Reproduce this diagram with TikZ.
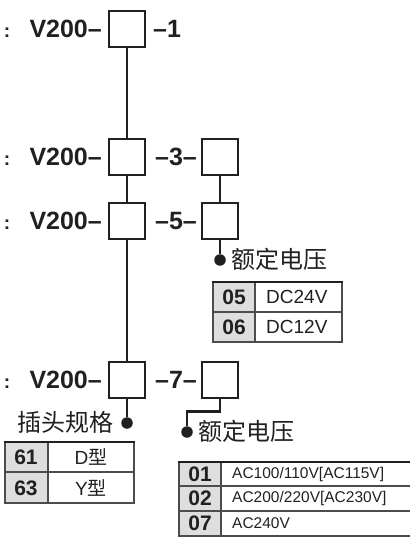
\documentclass[tikz,border=0pt]{standalone}
\usepackage{fontspec}
\setmainfont{Liberation Sans}
\newfontfamily\cjk{Noto Sans CJK SC}
\usepackage{xcolor}
\definecolor{color_ink}{rgb}{0.13,0.12,0.12}
\definecolor{color_cell}{rgb}{0.87,0.87,0.87}
\definecolor{color_rule}{rgb}{0.30,0.30,0.30}

\tikzset{
  codebox/.style={draw=color_ink, line width=2.5pt, minimum size=36pt, inner sep=0pt},
  codetext/.style={font=\fontsize{25}{27}\selectfont\bfseries, text=color_ink, inner sep=0pt},
  colontext/.style={font=\fontsize{19}{21}\selectfont\bfseries, text=color_ink, inner sep=0pt},
  link/.style={draw=color_ink, line width=2.6pt},
  pin/.style={circle, fill=color_ink, minimum size=11.5pt, inner sep=0pt},
  pinlabel/.style={font=\cjk\fontsize{24}{26}\selectfont, text=color_ink, inner sep=0pt},
  cellcode/.style={font=\fontsize{21}{23}\selectfont\bfseries, text=color_ink, inner sep=0pt},
  cellvalue/.style={font=\fontsize{19}{21}\selectfont, text=color_ink, inner sep=0pt},
  cellsmall/.style={font=\fontsize{15.5}{17}\selectfont, text=color_ink, inner sep=0pt},
  cellrule/.style={draw=color_rule, line width=1.1pt},
  celltop/.style={draw=color_ink, line width=2.2pt}
}

\begin{document}
\begin{tikzpicture}[x=1pt, y=-1pt]
		\useasboundingbox (0,0) rectangle (409,537);
		
		% Ligne 1
		\node[colontext] (colA) at (7,33) {:};
		\node[codetext, anchor=east] (baseA) at (102,29) {V200\textendash};
		\node[codebox] (boxA) at (127,29) {};
		\node[codetext, anchor=west] (sufA) at (153,29) {\textendash1};
		
		% Ligne 2
		\node[colontext] (colB) at (7,161) {:};
		\node[codetext, anchor=east] (baseB) at (102,157) {V200\textendash};
		\node[codebox] (boxB) at (127,157) {};
		\node[codetext] (sufB) at (176,157) {\textendash3\textendash};
		\node[codebox] (boxBr) at (220,157) {};
		
		% Ligne 3
		\node[colontext] (colC) at (7,225) {:};
		\node[codetext, anchor=east] (baseC) at (102,221) {V200\textendash};
		\node[codebox] (boxC) at (127,221) {};
		\node[codetext] (sufC) at (176,221) {\textendash5\textendash};
		\node[codebox] (boxCr) at (220,221) {};
		
		% Ligne 4
		\node[colontext] (colD) at (7,384) {:};
		\node[codetext, anchor=east] (baseD) at (102,380) {V200\textendash};
		\node[codebox] (boxD) at (127,380) {};
		\node[codetext] (sufD) at (176,380) {\textendash7\textendash};
		\node[codebox] (boxDr) at (220,380) {};
		
		% Liaisons verticales
		\draw[link] (boxA) -- (boxB);
		\draw[link] (boxB) -- (boxC);
		\draw[link] (boxC) -- (boxD);
		\draw[link] (boxBr) -- (boxCr);
		
		% Tension nominale DC
		\node[pin] (pinDC) at (220,260) {};
		\draw[link] (boxCr) -- (pinDC);
		\node[pinlabel, anchor=west] (lblDC) at (231,259) {额定电压};
		
		\fill[color_cell] (213,282) rectangle (255,342);
		\draw[cellrule] (213,282) rectangle (342,342);
		\draw[cellrule] (255,282) -- (255,342);
		\draw[cellrule] (213,312) -- (342,312);
		\draw[celltop] (212,282) -- (343,282);
		\node[cellcode] (dc05) at (234,297) {05};
		\node[cellvalue, anchor=west] (dcv05) at (266,297) {DC24V};
		\node[cellcode] (dc06) at (234,327) {06};
		\node[cellvalue, anchor=west] (dcv06) at (266,327) {DC12V};
		
		% Spécification de la fiche
		\node[pin] (pinPlug) at (127,423) {};
		\draw[link] (boxD) -- (pinPlug);
		\node[pinlabel, anchor=east] (lblPlug) at (114,422) {插头规格};
		
		\fill[color_cell] (5,442) rectangle (48,503);
		\draw[cellrule] (5,442) rectangle (134,503);
		\draw[cellrule] (48,442) -- (48,503);
		\draw[cellrule] (5,472) -- (134,472);
		\draw[celltop] (4,442) -- (135,442);
		\node[cellcode] (pl61) at (26,457) {61};
		\node[cellvalue] (plv61) at (91,457) {D{\cjk 型}};
		\node[cellcode] (pl63) at (26,488) {63};
		\node[cellvalue] (plv63) at (91,488) {Y{\cjk 型}};
		
		% Tension nominale AC
		\node[pin] (pinAC) at (187,432) {};
		\draw[link] (boxDr.south) -- ++(0,12) -| (pinAC);
		\node[pinlabel, anchor=west] (lblAC) at (198,431) {额定电压};
		
		\fill[color_cell] (179,462) rectangle (221,536);
		\draw[cellrule] (179,462) rectangle (412,536);
		\draw[cellrule] (221,462) -- (221,536);
		\draw[cellrule] (179,486) -- (412,486);
		\draw[cellrule] (179,511) -- (412,511);
		\draw[celltop] (178,462) -- (412,462);
		\node[cellcode] (ac01) at (200,474) {01};
		\node[cellsmall, anchor=west] (acv01) at (232,474) {AC100/110V[AC115V]};
		\node[cellcode] (ac02) at (200,498) {02};
		\node[cellsmall, anchor=west] (acv02) at (232,498) {AC200/220V[AC230V]};
		\node[cellcode] (ac07) at (200,523) {07};
		\node[cellsmall, anchor=west] (acv07) at (232,523) {AC240V};
	\end{tikzpicture}
\end{document}
